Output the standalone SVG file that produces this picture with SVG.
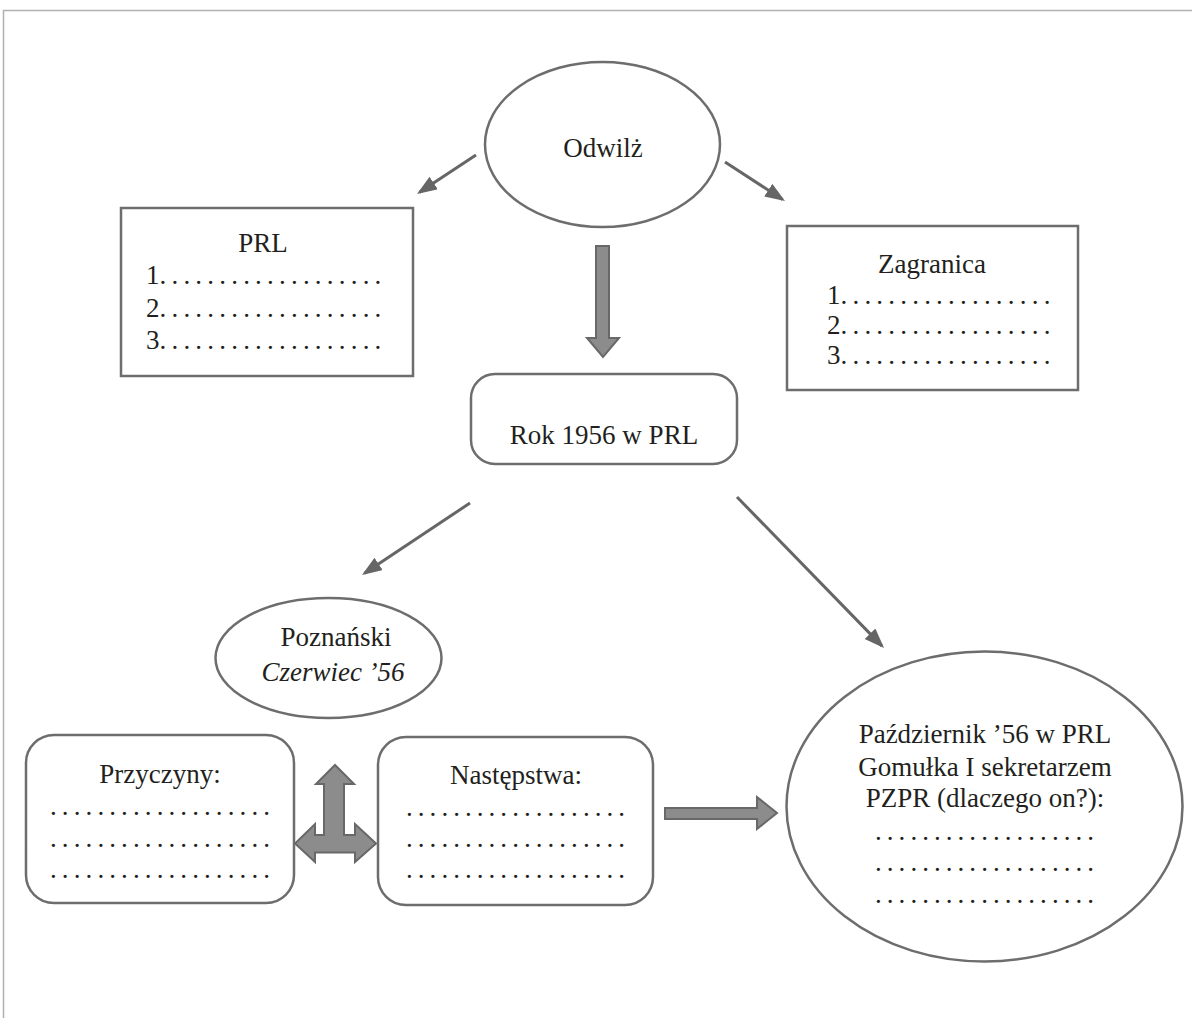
<svg xmlns="http://www.w3.org/2000/svg" width="1192" height="1018" viewBox="0 0 1192 1018">
<defs>
<style>
.t{font-family:"Liberation Serif","Times New Roman",serif;font-size:27px;fill:#231f20}
.c{text-anchor:middle}
.i{font-style:italic}
.d{letter-spacing:5.2px}
.shape{fill:#fff;stroke:#6d6d6d;stroke-width:2.5}
.conn{stroke:#666;stroke-width:3;fill:none}
.block{fill:#8c8c8c;stroke:#686868;stroke-width:2;stroke-linejoin:miter}
.frame{stroke:#b0b0b0;stroke-width:1.5;fill:none}
</style>
<marker id="ah" markerUnits="userSpaceOnUse" markerWidth="22" markerHeight="17" refX="17" refY="7.5" orient="auto">
<path d="M0,0 L20,7.5 L0,15 z" fill="#666"/>
</marker>
</defs>
<rect width="1192" height="1018" fill="#fff"/>
<path class="frame" d="M3.5,1018 V10.5 H1192"/>

<g id="connectors">
<line class="conn" x1="476" y1="155" x2="419.5" y2="192.3" marker-end="url(#ah)"/>
<line class="conn" x1="725" y1="162" x2="782.5" y2="199.4" marker-end="url(#ah)"/>
<line class="conn" x1="470" y1="503" x2="364.5" y2="573.3" marker-end="url(#ah)"/>
<line class="conn" x1="737" y1="497" x2="881.9" y2="645.9" marker-end="url(#ah)"/>
<path class="block" d="M596,246 H609 V338 H619 L603,357 L587,338 H596 Z"/>
<path class="block" d="M335,765 L354,784 H344 V835 H355 V824 L376,843.5 L355,862 V852.5 H315 V862 L295,843.5 L315,824 V835 H324 V784 H316 Z"/>
<path class="block" d="M665,808 H757 V797 L777,813 L757,829 V819 H665 Z"/>
</g>

<g id="odwilz">
<ellipse class="shape" cx="602.5" cy="144.5" rx="117.5" ry="82.5"/>
<text class="t c" x="603" y="157">Odwilż</text>
</g>

<g id="prl">
<rect class="shape" x="121" y="208" width="292" height="168"/>
<text class="t c" x="263" y="252">PRL</text>
<text class="t" x="146" y="284">1<tspan class="d">...................</tspan></text>
<text class="t" x="146" y="317">2<tspan class="d">...................</tspan></text>
<text class="t" x="146" y="349">3<tspan class="d">...................</tspan></text>
</g>

<g id="zagranica">
<rect class="shape" x="787" y="226" width="291" height="164"/>
<text class="t c" x="932" y="273">Zagranica</text>
<text class="t" x="827" y="304">1<tspan class="d">..................</tspan></text>
<text class="t" x="827" y="334">2<tspan class="d">..................</tspan></text>
<text class="t" x="827" y="364">3<tspan class="d">..................</tspan></text>
</g>

<g id="rok1956">
<rect class="shape" x="471" y="374" width="266" height="90" rx="24"/>
<text class="t c" x="604" y="444">Rok 1956 w PRL</text>
</g>

<g id="poznanski">
<ellipse class="shape" cx="328.5" cy="658" rx="113" ry="60"/>
<text class="t c" x="336" y="646">Poznański</text>
<text class="t c i" x="333" y="681">Czerwiec ’56</text>
</g>

<g id="przyczyny">
<rect class="shape" x="26" y="735" width="268" height="168" rx="28"/>
<text class="t c" x="160" y="783">Przyczyny:</text>
<text class="t" x="50" y="815" textLength="220" lengthAdjust="spacing">...................</text>
<text class="t" x="50" y="847" textLength="220" lengthAdjust="spacing">...................</text>
<text class="t" x="50" y="878" textLength="220" lengthAdjust="spacing">...................</text>
</g>

<g id="nastepstwa">
<rect class="shape" x="378" y="737" width="275" height="168" rx="28"/>
<text class="t c" x="516" y="784">Następstwa:</text>
<text class="t" x="406" y="816" textLength="219" lengthAdjust="spacing">...................</text>
<text class="t" x="406" y="847" textLength="219" lengthAdjust="spacing">...................</text>
<text class="t" x="406" y="878" textLength="219" lengthAdjust="spacing">...................</text>
</g>

<g id="pazdziernik">
<ellipse class="shape" cx="984.5" cy="806.5" rx="198" ry="155"/>
<text class="t c" x="985" y="743">Październik ’56 w PRL</text>
<text class="t c" x="985" y="776">Gomułka I sekretarzem</text>
<text class="t c" x="985" y="807">PZPR (dlaczego on?):</text>
<text class="t" x="875" y="840" textLength="219" lengthAdjust="spacing">...................</text>
<text class="t" x="875" y="871" textLength="219" lengthAdjust="spacing">...................</text>
<text class="t" x="875" y="903" textLength="219" lengthAdjust="spacing">...................</text>
</g>
</svg>
